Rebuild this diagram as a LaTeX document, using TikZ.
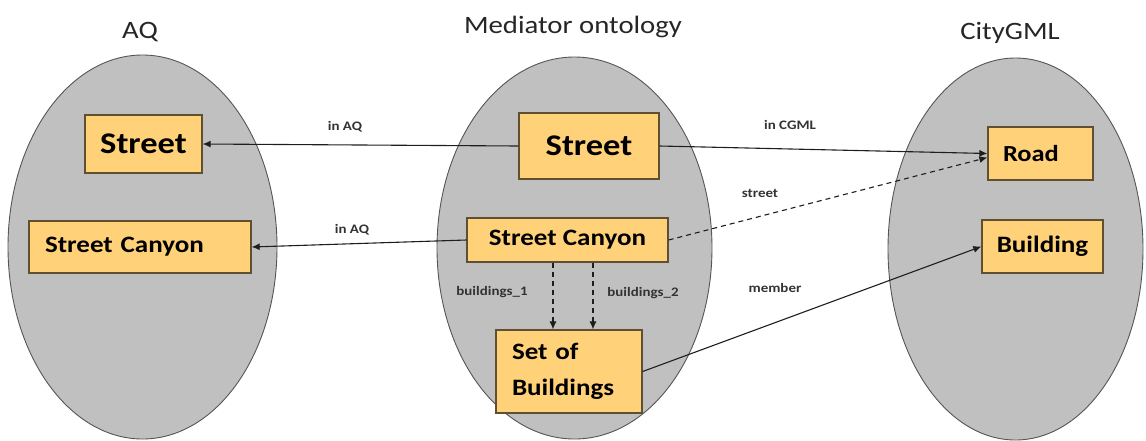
\documentclass[tikz,border=0pt]{standalone}
\usepackage{fontspec}
\setmainfont{Carlito}[FakeStretch=1.15]
\usetikzlibrary{arrows.meta,shapes.geometric}
\definecolor{ellfill}{RGB}{192,192,192}
\definecolor{ellline}{RGB}{85,85,85}
\definecolor{boxfill}{RGB}{255,209,120}
\definecolor{boxline}{RGB}{95,80,50}
\definecolor{linecol}{RGB}{30,30,30}
\tikzset{
  ell/.style={ellipse, draw=ellline, fill=ellfill, line width=0.9pt, inner sep=0pt},
  box/.style={rectangle, draw=boxline, fill=boxfill, line width=1.3pt, inner sep=0pt, font=\bfseries},
  title/.style={font=\fontsize{25}{28}\selectfont, text=black!85},
  elabel/.style={font=\bfseries\fontsize{13}{15}\selectfont, text=black!80},
  conn/.style={draw=linecol, line width=1.1pt, -{Latex[length=8pt,width=7pt]}},
  dconn/.style={conn, dash pattern=on 5pt off 4pt},
}
\begin{document}
\begin{tikzpicture}[x=1pt,y=-1pt]
\useasboundingbox (0,0) rectangle (1146,440);
% ellipses
\node[ell, minimum width=269pt, minimum height=384pt] (eaq) at (142.5,247) {};
\node[ell, minimum width=275pt, minimum height=382pt] (emed) at (574.5,248) {};
\node[ell, minimum width=255pt, minimum height=382pt] (ecg) at (1015.5,249) {};
% titles
\node[title] (taq) at (140,32) {AQ};
\node[title] (tmed) at (573,27) {Mediator ontology};
\node[title] (tcg) at (1010,33) {CityGML};
% boxes
\node[box, minimum width=117pt, minimum height=58pt, font=\bfseries\fontsize{30}{34}\selectfont] (ast) at (143.5,144) {Street};
\node[box, minimum width=222pt, minimum height=52pt, inner xsep=16pt, text width=190pt, align=left, font=\bfseries\fontsize{23.5}{27}\selectfont] (acan) at (140,247) {Street Canyon};
\node[box, minimum width=140pt, minimum height=66pt, font=\bfseries\fontsize{30}{34}\selectfont] (mst) at (589,146) {Street};
\node[box, minimum width=201pt, minimum height=44pt, font=\bfseries\fontsize{23.5}{27}\selectfont] (mcan) at (567.5,240) {Street Canyon};
\node[box, minimum width=146pt, minimum height=83pt, inner xsep=16pt, text width=114pt, align=left, font=\bfseries\fontsize{23.5}{36}\selectfont] (set) at (569,371.5) {Set of\\Buildings};
\node[box, minimum width=105pt, minimum height=53pt, inner xsep=15pt, text width=75pt, align=left, font=\bfseries\fontsize{23}{27}\selectfont] (road) at (1040.5,153.5) {Road};
\node[box, minimum width=121pt, minimum height=53pt, font=\bfseries\fontsize{23.5}{27}\selectfont] (bld) at (1042.5,246.5) {Building};
% connectors
\draw[conn] (mst.west) -- (ast.east);
\draw[conn] (mcan.west) -- (acan.east);
\draw[conn] (mst.east) -- (road.west);
\draw[dconn] (mcan.east) -- ([yshift=-4pt]road.west);
\draw[conn] (set.east) -- (bld.west);
\draw[dconn] ([xshift=-14.5pt]mcan.south) -- ([xshift=-16pt]set.north);
\draw[dconn] ([xshift=25.5pt]mcan.south) -- ([xshift=24pt]set.north);
% labels
\node[elabel] (l1) at (345,127) {in AQ};
\node[elabel] (l2) at (352,230) {in AQ};
\node[elabel] (l3) at (790,125) {in CGML};
\node[elabel] (l4) at (760,193) {street};
\node[elabel] (l5) at (775,288) {member};
\node[elabel] (l6) at (492,292) {buildings\_1};
\node[elabel] (l7) at (643,293) {buildings\_2};
\end{tikzpicture}
\end{document}
